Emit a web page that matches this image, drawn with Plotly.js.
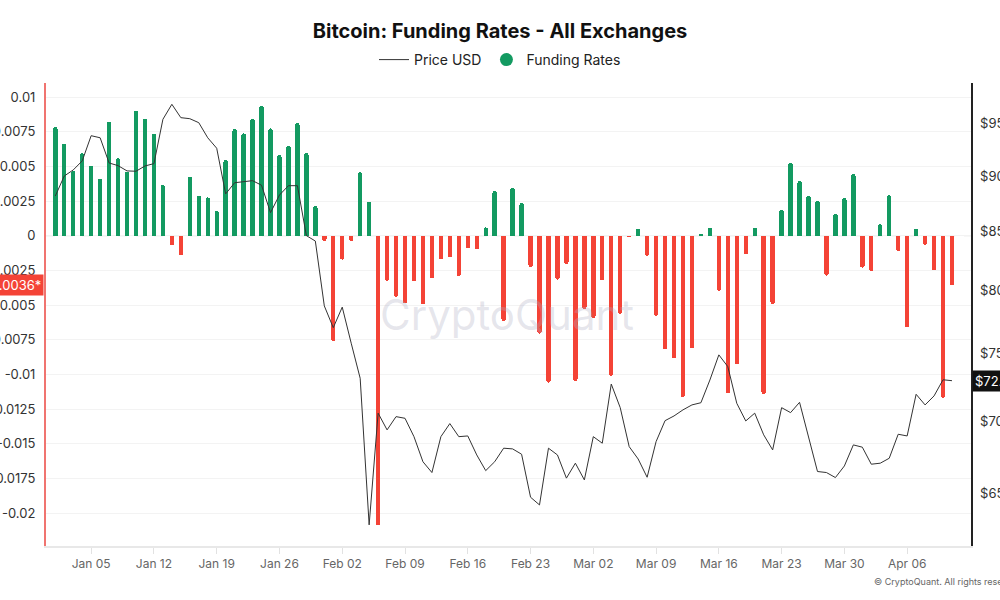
<!DOCTYPE html>
<html>
<head>
<meta charset="utf-8">
<script src="https://cdn.plot.ly/plotly-3.0.1.min.js"></script>
<style>
  html, body { margin: 0; padding: 0; background: #fff; }
  #chart { width: 1000px; height: 600px; }
</style>
</head>
<body>
<div id="chart"></div>
<script>
// ---- Data (daily, starting 2026-01-01) ----
const startDate = [2026, 0, 1];

const fundingRates = [
  0.00786, 0.00663, 0.00466, 0.00594, 0.00505, 0.00409, 0.00822, 0.00558, 0.00462, 0.00899,
  0.00841, 0.00736, 0.00365, -0.0007, -0.0014, 0.00423, 0.00288, 0.00276, 0.0018, 0.00548,
  0.00769, 0.00738, 0.00844, 0.00938, 0.00774, 0.00582, 0.00649, 0.00813, 0.00596, 0.00216,
  -0.0004, -0.0076, -0.00173, -0.00038, 0.00457, 0.00245, -0.02087, -0.00325, -0.0044, -0.00488,
  -0.00329, -0.00495, -0.00308, -0.0017, -0.00154, -0.00291, -0.00091, -0.00099, 0.0006, 0.00322,
  -0.00615, 0.00346, 0.00236, -0.00226, -0.00707, -0.0106, -0.00317, -0.00204, -0.01048, -0.00529,
  -0.00596, -0.00322, -0.0101, -0.00563, -0.0001, 0.00048, -0.00144, -0.00577, -0.0082, -0.00885,
  -0.01163, -0.0081, 0.0001, 0.00058, -0.00397, -0.01137, -0.00928, -0.00135, 0.00058, -0.01144,
  -0.00495, 0.00188, 0.00526, 0.00394, 0.00288, 0.0025, -0.00288, 0.00159, 0.00272, 0.00447,
  -0.00231, -0.00255, 0.00082, 0.00291, -0.0011, -0.00659, 0.00048, -0.00065, -0.0025, -0.01168,
  -0.00358
];

const priceUSD = [
  88180, 90010, 90570, 91410, 93810, 93610, 91220, 90970, 90480, 90450,
  90940, 91160, 95400, 96880, 95560, 95460, 95070, 93610, 92610, 88370,
  89390, 89490, 89580, 89160, 86690, 88270, 89120, 89120, 84670, 84200,
  78780, 77040, 78680, 75820, 73140, 62930, 70570, 69370, 70320, 70200,
  68890, 67140, 66400, 68890, 69820, 68890, 68940, 67610, 66530, 67140,
  68080, 68030, 67660, 64740, 64230, 68080, 67610, 66020, 67040, 65900,
  68890, 68430, 72710, 70970, 68190, 67330, 66080, 68540, 70030, 70370,
  70810, 71170, 71330, 73010, 74920, 74020, 71290, 70010, 70570, 69020,
  67960, 70970, 70610, 71360, 68890, 66470, 66400, 66060, 66850, 68310,
  68150, 66970, 67040, 67380, 69060, 68940, 71950, 71170, 71830, 73030,
  72960
];

const dateTickVals = ['2026-01-05', '2026-01-12', '2026-01-19', '2026-01-26', '2026-02-02', '2026-02-09', '2026-02-16',
  '2026-02-23', '2026-03-02', '2026-03-09', '2026-03-16', '2026-03-23', '2026-03-30', '2026-04-06'];
const dateTickText = ['Jan 05', 'Jan 12', 'Jan 19', 'Jan 26', 'Feb 02', 'Feb 09', 'Feb 16',
  'Feb 23', 'Mar 02', 'Mar 09', 'Mar 16', 'Mar 23', 'Mar 30', 'Apr 06'];
const fundingTickVals = [0.01, 0.0075, 0.005, 0.0025, 0, -0.0025, -0.005, -0.0075, -0.01, -0.0125, -0.015, -0.0175, -0.02];
const fundingTickText = ['0.01', '0.0075', '0.005', '0.0025', '0', '-0.0025', '-0.005', '-0.0075', '-0.01', '-0.0125', '-0.015', '-0.0175', '-0.02'];
const priceTickVals = [65000, 70000, 75000, 80000, 85000, 90000, 95000];
const priceTickText = ['$65K', '$70K', '$75K', '$80K', '$85K', '$90K', '$95K'];

const currentFundingLabel = '-0.0036*';
const currentPriceLabel = '$72.9K';

// ---- Build ----
const dates = fundingRates.map((_, i) => {
  const d = new Date(Date.UTC(startDate[0], startDate[1], startDate[2] + i));
  return d.toISOString().slice(0, 10);
});
const GREEN = '#139a61';
const RED = '#f44336';
const barColors = fundingRates.map(v => v >= 0 ? GREEN : RED);

const priceTrace = {
  type: 'scatter', mode: 'lines', name: 'Price USD',
  x: dates, y: priceUSD, yaxis: 'y2',
  line: { color: '#333333', width: 1 },
  hoverinfo: 'skip'
};
const fundingLegend = {
  type: 'scatter', mode: 'markers', name: 'Funding Rates',
  x: [null], y: [null],
  marker: { color: GREEN, size: 13, symbol: 'circle' },
  hoverinfo: 'skip'
};
const fundingBars = {
  type: 'bar', name: 'Funding Rates', showlegend: false,
  x: dates, y: fundingRates, yaxis: 'y',
  width: 0.49 * 86400000,
  marker: { color: barColors, cornerradius: 2, line: { width: 0 } },
  hoverinfo: 'skip'
};

const lastPrice = priceUSD[priceUSD.length - 1];
const lastFunding = fundingRates[fundingRates.length - 1];

const layout = {
  width: 1000, height: 600,
  paper_bgcolor: '#ffffff', plot_bgcolor: '#ffffff',
  margin: { l: 46, r: 29, t: 83, b: 54, autoexpand: false },
  font: { family: 'Inter, "Noto Sans", sans-serif', color: '#333' },
  title: {
    text: '<b>Bitcoin: Funding Rates - All Exchanges</b>',
    font: { family: 'Inter, sans-serif', size: 20, color: '#111' },
    xref: 'container', x: 0.5, xanchor: 'center',
    yref: 'container', y: 1 - 31 / 600, yanchor: 'middle'
  },
  showlegend: true,
  legend: {
    orientation: 'h',
    xref: 'container', x: 0.5, xanchor: 'center',
    yref: 'container', y: 1 - 60 / 600, yanchor: 'middle',
    font: { family: 'Inter, sans-serif', size: 14, color: '#222' },
    itemwidth: 30, traceorder: 'normal', bgcolor: 'rgba(0,0,0,0)'
  },
  bargap: 0,
  xaxis: {
    type: 'date',
    range: ['2025-12-30 23:06', '2026-04-13 02:53'],
    tickvals: dateTickVals, ticktext: dateTickText,
    ticks: 'outside', ticklen: 6, tickcolor: '#e2e2e2', tickwidth: 1,
    showgrid: false, zeroline: false,
    showline: true, linecolor: '#e8e8e8', linewidth: 2,
    tickfont: { family: 'Inter, sans-serif', size: 12, color: '#666' }
  },
  yaxis: {
    range: [-0.02238, 0.01101],
    tickvals: fundingTickVals, ticktext: fundingTickText,
    showgrid: true, gridcolor: '#f3f3f3', gridwidth: 1,
    zeroline: false,
    showline: true, linecolor: '#f07470', linewidth: 2,
    ticks: '', ticklabelstandoff: 6,
    tickfont: { family: 'Inter, sans-serif', size: 13, color: '#333' }
  },
  yaxis2: {
    type: 'log', overlaying: 'y', side: 'right',
    range: [Math.log10(61580), Math.log10(99020)],
    tickvals: priceTickVals, ticktext: priceTickText,
    showgrid: false, zeroline: false,
    showline: true, linecolor: '#222', linewidth: 1.5,
    ticks: '', ticklabelstandoff: 5,
    tickfont: { family: 'Inter, sans-serif', size: 13, color: '#333' }
  },
  shapes: [
    { type: 'line', xref: 'paper', x0: 0, x1: 1, yref: 'y', y0: 0, y1: 0,
      line: { color: '#c8c8c8', width: 1, dash: 'dash' }, layer: 'below' }
  ],
  annotations: [
    { text: 'CryptoQuant', xref: 'paper', yref: 'paper', x: 0.498, y: 0.5,
      xanchor: 'center', yanchor: 'middle', showarrow: false,
      font: { family: 'Inter, sans-serif', size: 42, color: 'rgba(175,175,195,0.33)' } },
    { text: currentFundingLabel, xref: 'paper', yref: 'y', x: 0, y: lastFunding,
      xanchor: 'right', yanchor: 'middle', xshift: -2, showarrow: false,
      bgcolor: RED, borderpad: 2,
      font: { family: 'Inter, sans-serif', size: 13, color: '#fff' } },
    { text: currentPriceLabel, xref: 'paper', yref: 'y2', x: 1, y: Math.log10(lastPrice),
      xanchor: 'left', yanchor: 'middle', xshift: 1, showarrow: false,
      bgcolor: '#111', borderpad: 2,
      font: { family: 'Inter, sans-serif', size: 13, color: '#fff' } },
    { text: '© CryptoQuant. All rights reserved.', xref: 'paper', yref: 'paper',
      x: (872 - 46) / 925, y: (546 - 581) / 463, xanchor: 'left', yanchor: 'middle',
      showarrow: false, font: { family: 'Inter, sans-serif', size: 9, color: '#666' } }
  ]
};

Plotly.newPlot('chart', [fundingBars, priceTrace, fundingLegend], layout, { displayModeBar: false, staticPlot: true });
</script>
</body>
</html>
